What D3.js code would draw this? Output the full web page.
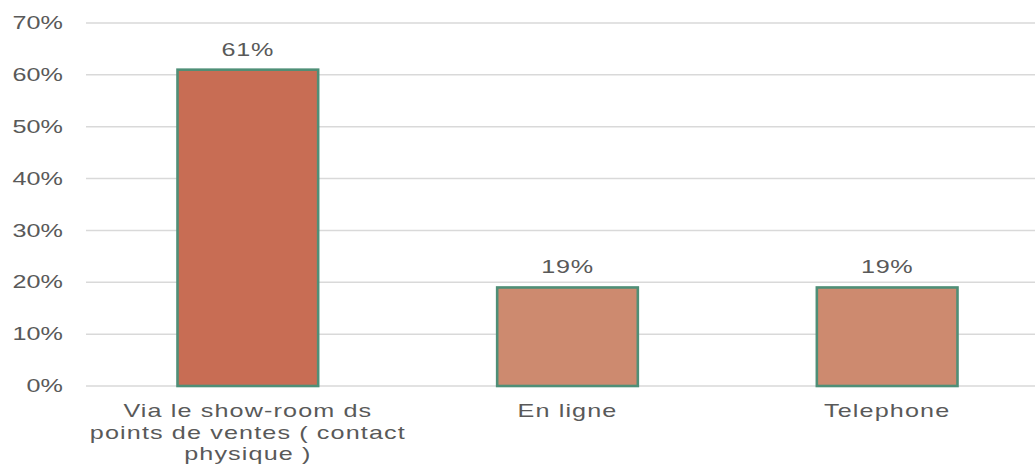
<!DOCTYPE html>
<html>
<head>
<meta charset="utf-8">
<script src="https://cdn.jsdelivr.net/npm/d3@7/dist/d3.min.js"></script>
<style>
  html, body { margin: 0; padding: 0; background: #fff; }
  svg { display: block; }
  text { font-family: "Liberation Sans", Arial, sans-serif; fill: #595959; }
</style>
</head>
<body>
<svg id="chart" width="1035" height="465"></svg>
<script>
// Contact channel shares
const categories = ["Via le show-room ds points de ventes ( contact physique )", "En ligne", "Telephone"];
const categoryLines = [["Via le show-room ds", "points de ventes ( contact", "physique )"], ["En ligne"], ["Telephone"]];
const values = [0.61, 0.19, 0.19];
const valueLabels = ["61%", "19%", "19%"];
const barColors = ["#C86D54", "#CD8A6F", "#CD8A6F"];
const yTicks = [0, 0.1, 0.2, 0.3, 0.4, 0.5, 0.6, 0.7];

const svg = d3.select("#chart");
const W = 1035;
const stretch = 1.4;   // wide glyph rendering
const fontSize = 18;

const y = d3.scaleLinear().domain([0, 0.7]).range([386, 23]);
const x = d3.scaleBand().domain(categories).range([88, 1047]).paddingInner(0.56).paddingOuter(0.28);

// gridlines
const grid = svg.append("g");
grid.selectAll("line").data(yTicks).join("line")
  .attr("x1", 86).attr("x2", W)
  .attr("y1", d => y(d)).attr("y2", d => y(d))
  .attr("stroke", "#D9D9D9").attr("stroke-width", 1.5);

// y tick labels
const fmt = d3.format(".0%");
svg.append("g").selectAll("text").data(yTicks).join("text")
  .attr("transform", d => `translate(63,${y(d)}) scale(${stretch},1)`)
  .attr("text-anchor", "end")
  .attr("dominant-baseline", "central")
  .style("font-size", fontSize + "px")
  .text(d => fmt(d));

// bars
svg.append("g").selectAll("rect").data(categories).join("rect")
  .attr("x", d => x(d))
  .attr("y", (d, i) => y(values[i]))
  .attr("width", x.bandwidth())
  .attr("height", (d, i) => y(0) - y(values[i]))
  .attr("fill", (d, i) => barColors[i])
  .attr("stroke", "#4F8F77")
  .attr("stroke-width", 2.6);

// value labels
svg.append("g").selectAll("text").data(categories).join("text")
  .attr("transform", (d, i) => `translate(${x(d) + x.bandwidth() / 2},${y(values[i]) - 14}) scale(${stretch},1)`)
  .attr("text-anchor", "middle")
  .style("font-size", fontSize + "px")
  .style("letter-spacing", "0.5px")
  .text((d, i) => valueLabels[i]);

// category labels
const cat = svg.append("g").selectAll("g").data(categories).join("g");
cat.each(function (d, i) {
  const cx = x(d) + x.bandwidth() / 2;
  d3.select(this).selectAll("text").data(categoryLines[i]).join("text")
    .attr("transform", (t, j) => `translate(${cx},${417 + j * 21.5}) scale(${stretch},1)`)
    .attr("text-anchor", "middle")
    .style("font-size", fontSize + "px")
    .style("letter-spacing", "0.8px")
    .text(t => t);
});
</script>
</body>
</html>
